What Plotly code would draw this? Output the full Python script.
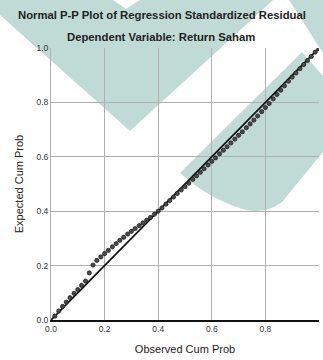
import plotly.graph_objects as go

# ---- data ----
observed = [0.014, 0.029, 0.043, 0.057, 0.071, 0.086, 0.100, 0.114, 0.129, 0.143,
            0.157, 0.171, 0.186, 0.200, 0.214, 0.229, 0.243, 0.257, 0.271, 0.286,
            0.300, 0.314, 0.329, 0.343, 0.357, 0.371, 0.386, 0.400, 0.414, 0.429,
            0.443, 0.457, 0.471, 0.486, 0.500, 0.514, 0.529, 0.543, 0.557, 0.571,
            0.586, 0.600, 0.614, 0.629, 0.643, 0.657, 0.671, 0.686, 0.700, 0.714,
            0.729, 0.743, 0.757, 0.771, 0.786, 0.800, 0.814, 0.829, 0.843, 0.857,
            0.871, 0.886, 0.900, 0.914, 0.929, 0.943, 0.957, 0.971, 0.986, 1.000]
expected = [0.014, 0.033, 0.050, 0.066, 0.082, 0.098, 0.112, 0.127, 0.143, 0.173,
            0.202, 0.219, 0.232, 0.244, 0.256, 0.269, 0.281, 0.293, 0.304, 0.316,
            0.326, 0.336, 0.347, 0.357, 0.367, 0.377, 0.389, 0.400, 0.412, 0.426,
            0.439, 0.452, 0.465, 0.478, 0.490, 0.503, 0.517, 0.530, 0.543, 0.556,
            0.570, 0.583, 0.596, 0.611, 0.624, 0.637, 0.651, 0.665, 0.679, 0.692,
            0.707, 0.721, 0.735, 0.750, 0.766, 0.781, 0.796, 0.813, 0.829, 0.845,
            0.861, 0.878, 0.893, 0.908, 0.924, 0.939, 0.954, 0.969, 0.985, 0.998]
diagonal = [0.0, 1.0]
tick_vals = [0.0, 0.2, 0.4, 0.6, 0.8, 1.0]
tick_text = ["0.0", "0.2", "0.4", "0.6", "0.8", "1.0"]
title_1 = "Normal P-P Plot of Regression Standardized Residual"
title_2 = "Dependent Variable: Return Saham"
x_title = "Observed Cum Prob"
y_title = "Expected Cum Prob"

# ---- layout geometry ----
W, H = 323, 360
ML, MR, MT, MB = 51, 4, 48, 40
PW = W - ML - MR
PH = H - MT - MB
FONT = "Liberation Sans, Arial, sans-serif"
TEAL = "#c0dad6"


def px(x):
    return (x - ML) / PW


def py(y):
    return (H - MB - y) / PH


def poly(pts):
    return "M " + " L ".join(f"{px(a):.4f},{py(b):.4f}" for a, b in pts) + " Z"


# decorative watermark areas (page pixels)
wm_a = [(0, 0), (273, 0), (130, 131), (0, 15)]
wm_notch = [(113, 0), (140, 0), (126, 9)]
wm_c = [(289, 0), (323, 0), (323, 53)]
wm_b_path = (f"M {px(302):.4f},{py(52):.4f} L {px(323):.4f},{py(76):.4f} "
             f"L {px(323):.4f},{py(152):.4f} L {px(282):.4f},{py(202):.4f} "
             f"Q {px(266):.4f},{py(214):.4f} {px(246):.4f},{py(210):.4f} "
             f"Q {px(210):.4f},{py(200):.4f} {px(180):.4f},{py(173):.4f} Z")

shapes = [
    dict(type="path", xref="paper", yref="paper", path=poly(wm_a),
         fillcolor=TEAL, line=dict(width=0), layer="below"),
    dict(type="path", xref="paper", yref="paper", path=poly(wm_notch),
         fillcolor="white", line=dict(width=0), layer="below"),
    dict(type="path", xref="paper", yref="paper", path=poly(wm_c),
         fillcolor=TEAL, line=dict(width=0), layer="below"),
    dict(type="path", xref="paper", yref="paper", path=wm_b_path,
         fillcolor=TEAL, line=dict(width=0), layer="below"),
]

fig = go.Figure()
fig.add_trace(go.Scatter(x=diagonal, y=diagonal, mode="lines",
                         line=dict(color="#111111", width=1.7),
                         hoverinfo="skip", showlegend=False))
fig.add_trace(go.Scatter(x=observed, y=expected, mode="markers",
                         marker=dict(symbol="circle", size=4.2, color="#4a4a4a",
                                     line=dict(color="#111111", width=0.7)),
                         showlegend=False))

axis_common = dict(range=[0, 1], tickvals=tick_vals, ticktext=tick_text,
                   showgrid=True, gridcolor="#b0b0b0", gridwidth=1,
                   zeroline=False, ticks="",
                   tickfont=dict(family=FONT, size=8.5, color="#333333"))

fig.update_xaxes(**axis_common, showline=True, linecolor="#111111", linewidth=1.5,
                 title=dict(text=x_title, standoff=12,
                            font=dict(family=FONT, size=11, color="#222222")))
fig.update_yaxes(**axis_common, showline=True, linecolor="#b0b0b0", linewidth=1,
                 title=dict(text=y_title, standoff=10,
                            font=dict(family=FONT, size=11, color="#222222")))

annotations = [
    dict(text=f"<b>{title_1}</b>", xref="paper", yref="paper",
         x=px(162), y=py(15), xanchor="center", yanchor="middle", showarrow=False,
         font=dict(family=FONT, size=11.3, color="#222222")),
    dict(text=f"<b>{title_2}</b>", xref="paper", yref="paper",
         x=px(161), y=py(37), xanchor="center", yanchor="middle", showarrow=False,
         font=dict(family=FONT, size=11.3, color="#222222")),
]

fig.update_layout(width=W, height=H, margin=dict(l=ML, r=MR, t=MT, b=MB),
                  paper_bgcolor="white", plot_bgcolor="rgba(0,0,0,0)",
                  shapes=shapes, annotations=annotations,
                  font=dict(family=FONT), showlegend=False)

fig.write_html("out.html")
